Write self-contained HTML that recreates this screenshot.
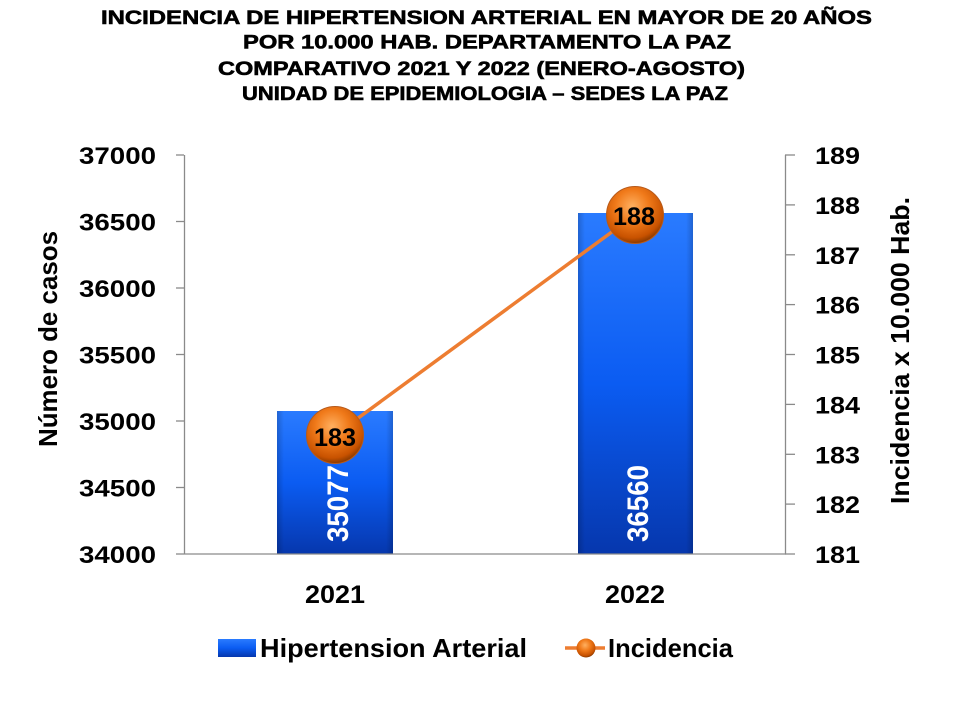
<!DOCTYPE html>
<html>
<head>
<meta charset="utf-8">
<style>
html,body{margin:0;padding:0;background:#fff;}
svg{display:block;}
text{font-family:"Liberation Sans",Arial,sans-serif;font-weight:bold;}
</style>
</head>
<body>
<svg width="960" height="720" viewBox="0 0 960 720" xmlns="http://www.w3.org/2000/svg">
<defs>
<linearGradient id="barg" x1="0" y1="0" x2="0" y2="1">
<stop offset="0" stop-color="#2a7bff"/>
<stop offset="0.5" stop-color="#0b5cf2"/>
<stop offset="1" stop-color="#0637ad"/>
</linearGradient>
<linearGradient id="barh" x1="0" y1="0" x2="1" y2="0">
<stop offset="0" stop-color="#000" stop-opacity="0.18"/>
<stop offset="0.06" stop-color="#000" stop-opacity="0"/>
<stop offset="0.94" stop-color="#000" stop-opacity="0"/>
<stop offset="1" stop-color="#000" stop-opacity="0.18"/>
</linearGradient>
<radialGradient id="ball" cx="0.45" cy="0.35" r="0.65">
<stop offset="0" stop-color="#ffb060"/>
<stop offset="0.45" stop-color="#f07a1a"/>
<stop offset="0.85" stop-color="#c85200"/>
<stop offset="1" stop-color="#8a3a00"/>
</radialGradient>
</defs>

<!-- Title -->
<g stroke="#000" stroke-width="0.6">
<text x="101" y="24" font-size="19.5" textLength="771" lengthAdjust="spacingAndGlyphs">INCIDENCIA  DE HIPERTENSION ARTERIAL  EN MAYOR DE 20 AÑOS</text>
<text x="243" y="48.5" font-size="19.5" textLength="488" lengthAdjust="spacingAndGlyphs">POR 10.000 HAB. DEPARTAMENTO  LA PAZ</text>
<text x="218" y="75" font-size="19.5" textLength="527" lengthAdjust="spacingAndGlyphs">COMPARATIVO  2021 Y 2022 (ENERO-AGOSTO)</text>
<text x="242" y="100" font-size="19.5" textLength="486" lengthAdjust="spacingAndGlyphs">UNIDAD DE EPIDEMIOLOGIA – SEDES LA PAZ</text>
</g>

<!-- Bars -->
<rect x="277" y="411" width="116" height="143" fill="url(#barg)"/>
<rect x="277" y="411" width="116" height="143" fill="url(#barh)"/>
<rect x="578" y="213" width="115" height="341" fill="url(#barg)"/>
<rect x="578" y="213" width="115" height="341" fill="url(#barh)"/>

<!-- Bar labels -->
<text transform="translate(348,542) rotate(-90)" font-size="30" fill="#fff" textLength="77" lengthAdjust="spacingAndGlyphs">35077</text>
<text transform="translate(648,542) rotate(-90)" font-size="30" fill="#fff" textLength="77" lengthAdjust="spacingAndGlyphs">36560</text>

<!-- Axes -->
<g stroke="#8a8a8a" stroke-width="1.3" fill="none">
<line x1="184.5" y1="155" x2="184.5" y2="554"/>
<line x1="184" y1="554" x2="786" y2="554"/>
<line x1="785.5" y1="155" x2="785.5" y2="554"/>
<line x1="176" y1="155" x2="184" y2="155"/>
<line x1="176" y1="221.5" x2="184" y2="221.5"/>
<line x1="176" y1="288" x2="184" y2="288"/>
<line x1="176" y1="354.5" x2="184" y2="354.5"/>
<line x1="176" y1="421" x2="184" y2="421"/>
<line x1="176" y1="487.5" x2="184" y2="487.5"/>
<line x1="176" y1="554" x2="184" y2="554"/>
<line x1="785" y1="155" x2="795" y2="155"/>
<line x1="785" y1="204.9" x2="795" y2="204.9"/>
<line x1="785" y1="254.8" x2="795" y2="254.8"/>
<line x1="785" y1="304.6" x2="795" y2="304.6"/>
<line x1="785" y1="354.5" x2="795" y2="354.5"/>
<line x1="785" y1="404.4" x2="795" y2="404.4"/>
<line x1="785" y1="454.3" x2="795" y2="454.3"/>
<line x1="785" y1="504.1" x2="795" y2="504.1"/>
<line x1="785" y1="554" x2="795" y2="554"/>
</g>

<!-- Left tick labels -->
<g font-size="24" text-anchor="end">
<text x="156" y="164" textLength="77" lengthAdjust="spacingAndGlyphs">37000</text>
<text x="156" y="230.5" textLength="77" lengthAdjust="spacingAndGlyphs">36500</text>
<text x="156" y="297" textLength="77" lengthAdjust="spacingAndGlyphs">36000</text>
<text x="156" y="363.5" textLength="77" lengthAdjust="spacingAndGlyphs">35500</text>
<text x="156" y="430" textLength="77" lengthAdjust="spacingAndGlyphs">35000</text>
<text x="156" y="496.5" textLength="77" lengthAdjust="spacingAndGlyphs">34500</text>
<text x="156" y="563" textLength="77" lengthAdjust="spacingAndGlyphs">34000</text>
</g>

<!-- Right tick labels -->
<g font-size="24">
<text x="815" y="164" textLength="45" lengthAdjust="spacingAndGlyphs">189</text>
<text x="815" y="213.9" textLength="45" lengthAdjust="spacingAndGlyphs">188</text>
<text x="815" y="263.8" textLength="45" lengthAdjust="spacingAndGlyphs">187</text>
<text x="815" y="313.6" textLength="45" lengthAdjust="spacingAndGlyphs">186</text>
<text x="815" y="363.5" textLength="45" lengthAdjust="spacingAndGlyphs">185</text>
<text x="815" y="413.4" textLength="45" lengthAdjust="spacingAndGlyphs">184</text>
<text x="815" y="463.3" textLength="45" lengthAdjust="spacingAndGlyphs">183</text>
<text x="815" y="513.1" textLength="45" lengthAdjust="spacingAndGlyphs">182</text>
<text x="815" y="563" textLength="45" lengthAdjust="spacingAndGlyphs">181</text>
</g>

<!-- Axis titles -->
<text transform="translate(57,447) rotate(-90)" font-size="26" textLength="216" lengthAdjust="spacingAndGlyphs">Número de casos</text>
<text transform="translate(909,504) rotate(-90)" font-size="26" textLength="307" lengthAdjust="spacingAndGlyphs">Incidencia x 10.000 Hab.</text>

<!-- X labels -->
<text x="305" y="603" font-size="25" textLength="60" lengthAdjust="spacingAndGlyphs">2021</text>
<text x="605" y="603" font-size="25" textLength="60" lengthAdjust="spacingAndGlyphs">2022</text>

<!-- Line series -->
<line x1="335" y1="435" x2="635" y2="215" stroke="#ed7d31" stroke-width="3.5"/>
<circle cx="335" cy="435" r="28.5" fill="url(#ball)" stroke="#b85a1a" stroke-width="1"/>
<circle cx="635" cy="215" r="28.5" fill="url(#ball)" stroke="#b85a1a" stroke-width="1"/>
<text x="314" y="446" font-size="25" textLength="42" lengthAdjust="spacingAndGlyphs">183</text>
<text x="613" y="225" font-size="25" textLength="42" lengthAdjust="spacingAndGlyphs">188</text>

<!-- Legend -->
<rect x="218" y="639" width="38" height="18" fill="url(#barg)"/>
<text x="260" y="657" font-size="26" textLength="267" lengthAdjust="spacingAndGlyphs">Hipertension Arterial</text>
<line x1="565" y1="648" x2="605" y2="648" stroke="#ed7d31" stroke-width="3.5"/>
<circle cx="586" cy="648" r="9.5" fill="url(#ball)"/>
<text x="608" y="657" font-size="26" textLength="125" lengthAdjust="spacingAndGlyphs">Incidencia</text>
</svg>
</body>
</html>
